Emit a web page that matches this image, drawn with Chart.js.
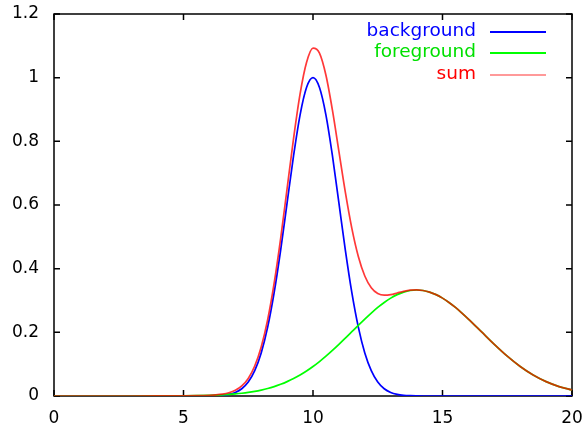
<!DOCTYPE html>
<html>
<head>
<meta charset="utf-8">
<script src="https://cdn.jsdelivr.net/npm/chart.js@4/dist/chart.umd.min.js"></script>
<style>
  html, body { margin: 0; padding: 0; background: #fff; }
  #wrap { width: 588px; height: 432px; }
</style>
</head>
<body>
<div id="wrap"><canvas id="chart"></canvas></div>
<script>
let xs = [0, 1, 2, 3, 4, 5, 5.5,
    6, 6.25, 6.5, 6.75, 7, 7.25, 7.5, 7.75, 8, 8.25, 8.5, 8.75, 9, 9.25, 9.5, 9.75,
    10, 10.25, 10.5, 10.75, 11, 11.25, 11.5, 11.75, 12, 12.25, 12.5, 12.75, 13, 13.25, 13.5, 13.75,
    14, 14.25, 14.5, 14.75, 15, 15.25, 15.5, 15.75, 16,
    16.5, 17, 17.5, 18, 18.5, 19, 19.5, 20];

let background = [0, 0, 0, 0, 0, 0, 0,
    0.0003, 0.0009, 0.0022, 0.0051, 0.0111, 0.0228, 0.0439, 0.0796, 0.1353, 0.2163, 0.3247, 0.4578, 0.6065, 0.7548, 0.8825, 0.969,
    1, 0.969, 0.8825, 0.7548, 0.6065, 0.4578, 0.3247, 0.2163, 0.1353, 0.0796, 0.0439, 0.0228, 0.0111, 0.0051, 0.0022, 0.0009,
    0.0003, 0, 0, 0, 0, 0, 0, 0, 0,
    0, 0, 0, 0, 0, 0, 0, 0];

let foreground = [0, 0, 0, 0, 0.0001, 0.0005, 0.0010,
    0.0020, 0.0027, 0.0037, 0.0050, 0.0066, 0.0087, 0.0113, 0.0146, 0.0187, 0.0236, 0.0296, 0.0367, 0.0451, 0.0548, 0.0659, 0.0785,
    0.0926, 0.1081, 0.1250, 0.1431, 0.1621, 0.1819, 0.2020, 0.2221, 0.2418, 0.2606, 0.2782, 0.2939, 0.3074, 0.3184, 0.3264, 0.3314,
    0.3330, 0.3314, 0.3264, 0.3184, 0.3074, 0.2939, 0.2782, 0.2606, 0.2418,
    0.2020, 0.1621, 0.1250, 0.0926, 0.0659, 0.0451, 0.0296, 0.0187];

let sum = [0, 0, 0, 0, 0.0001, 0.0005, 0.0010,
    0.0023, 0.0036, 0.0059, 0.0101, 0.0177, 0.0315, 0.0552, 0.0942, 0.1540, 0.2399, 0.3543, 0.4945, 0.6516, 0.8096, 0.9484, 1.0475,
    1.0926, 1.0771, 1.0075, 0.8979, 0.7686, 0.6397, 0.5267, 0.4384, 0.3771, 0.3402, 0.3221, 0.3167, 0.3185, 0.3235, 0.3286, 0.3323,
    0.3333, 0.3314, 0.3264, 0.3184, 0.3074, 0.2939, 0.2782, 0.2606, 0.2418,
    0.2020, 0.1621, 0.1250, 0.0926, 0.0659, 0.0451, 0.0296, 0.0187];

let xTicks = [0, 5, 10, 15, 20];
let yTicks = [0, 0.2, 0.4, 0.6, 0.8, 1, 1.2];

function toPoints(ys) {
    let pts = [];
    for (let i = 0; i < xs.length; i++) {
        pts.push({ x: xs[i], y: ys[i] });
    }
    return pts;
}

// gnuplot-like frame with inward ticks on all four sides
const framePlugin = {
    id: 'frame',
    beforeDatasetsDraw(chart) {
        let ctx = chart.ctx;
        let a = chart.chartArea;
        let sx = chart.scales.x, sy = chart.scales.y;
        let len = 6;
        ctx.save();
        ctx.strokeStyle = '#000';
        ctx.lineWidth = 1.5;
        ctx.strokeRect(a.left, a.top, a.right - a.left, a.bottom - a.top);
        ctx.beginPath();
        xTicks.forEach(v => {
            let px = sx.getPixelForValue(v);
            ctx.moveTo(px, a.bottom); ctx.lineTo(px, a.bottom - len);
            ctx.moveTo(px, a.top); ctx.lineTo(px, a.top + len);
        });
        yTicks.forEach(v => {
            let py = sy.getPixelForValue(v);
            ctx.moveTo(a.left, py); ctx.lineTo(a.left + len, py);
            ctx.moveTo(a.right, py); ctx.lineTo(a.right - len, py);
        });
        ctx.stroke();
        ctx.restore();
    }
};

// legend: text right-aligned, line sample to its right
const keyPlugin = {
    id: 'key',
    afterDraw(chart) {
        let ctx = chart.ctx;
        let textRight = 476, lineL = 490, lineR = 546;
        let rows = [31, 52, 74];
        ctx.save();
        ctx.font = '18.5px "DejaVu Sans"';
        ctx.textAlign = 'right';
        ctx.textBaseline = 'middle';
        chart.data.datasets.forEach((ds, i) => {
            ctx.fillStyle = ds.keyColor;
            ctx.fillText(ds.label, textRight, rows[i]);
            ctx.strokeStyle = ds.keyLine;
            ctx.lineWidth = 2;
            ctx.beginPath();
            ctx.moveTo(lineL, rows[i] + 1);
            ctx.lineTo(lineR, rows[i] + 1);
            ctx.stroke();
        });
        ctx.restore();
    }
};

let ctx = document.getElementById('chart').getContext('2d');
let myChart = new Chart(ctx, {
    type: 'line',
    data: {
        datasets: [
            { label: 'background', data: toPoints(background), borderColor: '#0000ff', keyColor: '#0000ff', keyLine: '#0000ff', order: 2 },
            { label: 'foreground', data: toPoints(foreground), borderColor: '#00ff00', keyColor: '#00e000', keyLine: '#00ff00', order: 1 },
            { label: 'sum', data: toPoints(sum), borderColor: 'rgba(255,0,0,0.78)', keyColor: '#ff0000', keyLine: 'rgba(255,0,0,0.4)', order: 0 }
        ]
    },
    options: {
        responsive: true,
        maintainAspectRatio: false,
        animation: false,
        events: [],
        elements: {
            point: { radius: 0 },
            line: { borderWidth: 1.7, cubicInterpolationMode: 'monotone', fill: false }
        },
        layout: { padding: { left: 0, right: 16, top: 14, bottom: 0 } },
        plugins: {
            legend: { display: false },
            tooltip: { enabled: false }
        },
        scales: {
            x: {
                type: 'linear',
                min: 0,
                max: 20,
                afterFit(scale) {
                    scale.height = 36;
                    scale.paddingLeft = 0;
                    scale.paddingRight = 0;
                },
                afterBuildTicks(scale) { scale.ticks = xTicks.map(v => ({ value: v })); },
                grid: { display: false, drawTicks: false },
                border: { display: false },
                ticks: { color: '#000', padding: 12, maxRotation: 0, font: { family: 'DejaVu Sans', size: 17 } }
            },
            y: {
                type: 'linear',
                min: 0,
                max: 1.2,
                afterFit(scale) {
                    scale.width = 54;
                    scale.paddingTop = 0;
                    scale.paddingBottom = 0;
                },
                afterBuildTicks(scale) { scale.ticks = yTicks.map(v => ({ value: v })); },
                grid: { display: false, drawTicks: false },
                border: { display: false },
                ticks: {
                    color: '#000', padding: 15, font: { family: 'DejaVu Sans', size: 17 },
                    callback: v => String(Math.round(v * 10) / 10)
                }
            }
        }
    },
    plugins: [framePlugin, keyPlugin]
});
</script>
</body>
</html>
